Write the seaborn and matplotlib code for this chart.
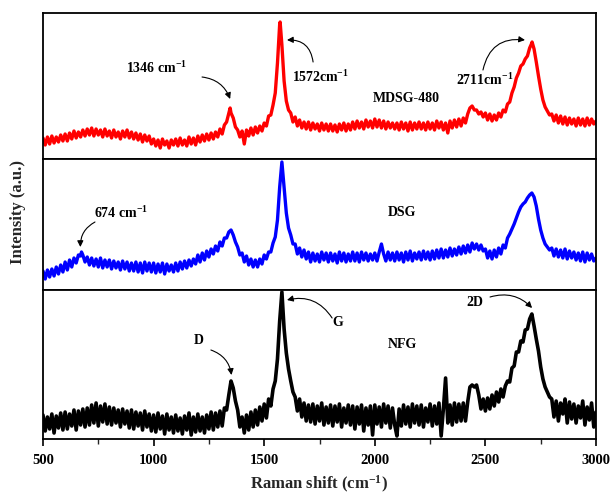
import numpy as np
import pandas as pd
import matplotlib
matplotlib.use("Agg")
import matplotlib.pyplot as plt
import seaborn as sns

# Raman shift sampling grid (cm^-1)
shift_grid = np.arange(500, 3001, 10)

# MDSG-480 intensity (a.u.) on the grid
mdsg_counts = [
    21, 14, 22, 15, 23, 16, 22, 17, 24, 18,
    25, 18, 26, 20, 28, 21, 27, 22, 29, 23,
    30, 24, 31, 23, 30, 24, 29, 22, 30, 23,
    28, 21, 29, 22, 27, 20, 28, 22, 29, 21,
    27, 20, 26, 19, 25, 17, 24, 18, 23, 15,
    20, 13, 19, 11, 20, 14, 18, 11, 19, 14,
    20, 13, 21, 14, 19, 13, 22, 15, 21, 14,
    23, 17, 24, 18, 25, 19, 26, 20, 27, 22,
    30, 25, 34, 37, 46, 46, 41, 32, 29, 22,
    28, 15, 29, 23, 31, 24, 32, 26, 33, 28,
    36, 33, 43, 44, 54, 66, 96, 135, 114, 78,
    58, 49, 46, 37, 42, 33, 39, 31, 37, 30,
    37, 29, 36, 30, 35, 28, 36, 29, 35, 28,
    35, 28, 34, 27, 35, 29, 36, 28, 35, 29,
    37, 30, 38, 31, 37, 30, 39, 32, 38, 31,
    40, 32, 39, 31, 38, 30, 37, 31, 36, 30,
    36, 29, 37, 30, 36, 28, 37, 29, 36, 30,
    37, 30, 36, 29, 37, 30, 36, 29, 38, 31,
    37, 29, 36, 26, 38, 31, 39, 32, 40, 33,
    41, 36, 45, 51, 53, 49, 49, 45, 47, 42,
    46, 39, 45, 38, 44, 39, 46, 42, 49, 47,
    55, 57, 66, 72, 81, 86, 93, 95, 100, 103,
    111, 116, 110, 97, 83, 70, 59, 52, 48, 44,
    45, 38, 44, 36, 43, 35, 42, 34, 41, 35,
    40, 33, 41, 34, 40, 33, 41, 34, 40, 35,
    38,
]
mdsg_peak_pos = [1346, 1572, 2711]
mdsg_peak_val = [51, 137, 117]

# DSG intensity (a.u.) on the grid
dsg_counts = [
    19, 11, 20, 13, 21, 14, 23, 16, 25, 18,
    28, 20, 30, 23, 32, 27, 35, 34, 35, 28,
    33, 25, 32, 24, 31, 23, 32, 22, 30, 23,
    30, 21, 29, 22, 28, 20, 29, 21, 28, 19,
    27, 19, 28, 18, 27, 17, 28, 19, 27, 18,
    27, 17, 26, 18, 27, 16, 26, 19, 25, 18,
    27, 19, 28, 21, 29, 22, 30, 24, 31, 26,
    35, 28, 37, 30, 39, 33, 41, 36, 44, 39,
    48, 44, 52, 52, 58, 60, 55, 48, 43, 35,
    37, 28, 34, 25, 31, 23, 30, 23, 31, 26,
    35, 31, 38, 38, 47, 53, 70, 103, 128, 102,
    77, 62, 55, 46, 46, 36, 42, 33, 40, 31,
    38, 28, 37, 29, 36, 28, 38, 30, 37, 28,
    37, 29, 36, 27, 38, 29, 37, 28, 36, 29,
    38, 29, 37, 28, 38, 30, 37, 29, 36, 30,
    37, 29, 38, 46, 36, 29, 38, 30, 37, 29,
    38, 30, 37, 28, 38, 30, 39, 29, 37, 31,
    38, 30, 39, 31, 38, 30, 39, 31, 40, 32,
    41, 32, 40, 33, 42, 34, 41, 35, 43, 36,
    44, 37, 45, 38, 47, 41, 46, 40, 45, 39,
    41, 32, 39, 31, 40, 33, 42, 36, 45, 42,
    52, 56, 61, 66, 72, 78, 83, 86, 88, 92,
    95, 97, 93, 84, 71, 60, 52, 46, 43, 40,
    42, 34, 41, 33, 40, 32, 41, 31, 39, 32,
    38, 30, 37, 29, 38, 28, 37, 30, 36, 29,
    32,
]
dsg_peak_pos = [674]
dsg_peak_val = [38]

# NFG intensity (a.u.) on the grid
nfg_counts = [
    24, 8, 22, 10, 25, 6, 23, 11, 26, 9,
    27, 10, 25, 13, 29, 9, 28, 14, 30, 12,
    31, 14, 34, 16, 36, 13, 33, 17, 35, 15,
    32, 14, 31, 16, 29, 12, 30, 15, 28, 11,
    29, 10, 27, 13, 26, 9, 28, 12, 25, 8,
    24, 7, 26, 10, 23, 5, 25, 9, 22, 6,
    24, 8, 21, 5, 23, 9, 26, 4, 22, 7,
    25, 8, 22, 6, 24, 10, 27, 9, 26, 12,
    28, 13, 31, 29, 44, 58, 51, 38, 29, 12,
    22, 6, 24, 9, 27, 12, 29, 14, 32, 18,
    35, 21, 40, 33, 50, 58, 80, 118, 147, 110,
    86, 70, 58, 47, 42, 28, 40, 22, 36, 18,
    34, 17, 35, 15, 33, 18, 36, 14, 32, 16,
    34, 13, 33, 17, 35, 12, 31, 16, 34, 14,
    33, 10, 32, 15, 34, 8, 31, 14, 33, 4,
    34, 15, 32, 12, 35, 16, 33, 11, 31, 14,
    3, 30, 13, 34, 15, 32, 12, 35, 16, 33,
    14, 34, 12, 31, 17, 35, 13, 33, 15, 36,
    3, 30, 61, 16, 34, 14, 36, 17, 35, 18,
    36, 18, 37, 52, 54, 52, 54, 44, 30, 40,
    28, 41, 30, 44, 33, 47, 37, 50, 42, 53,
    58, 57, 71, 73, 87, 87, 98, 97, 109, 110,
    120, 125, 113, 100, 88, 72, 60, 52, 47, 42,
    40, 22, 38, 18, 36, 25, 40, 16, 37, 20,
    35, 16, 33, 21, 38, 14, 32, 19, 36, 12,
    27,
]
nfg_peak_pos = []
nfg_peak_val = []

sample_names = ["MDSG-480", "DSG", "NFG"]
sample_colors = ["#ff0000", "#0000ff", "#000000"]
x_ticks = [500, 1000, 1500, 2000, 2500, 3000]


def spectrum(counts, peak_pos, peak_val):
    assert len(counts) == len(shift_grid)
    x = np.concatenate([shift_grid, np.asarray(peak_pos, dtype=float)])
    y = np.concatenate([np.asarray(counts, float), np.asarray(peak_val, float)])
    order = np.argsort(x, kind="stable")
    return pd.DataFrame({"shift": x[order], "intensity": y[order]})


spectra = [
    spectrum(mdsg_counts, mdsg_peak_pos, mdsg_peak_val),
    spectrum(dsg_counts, dsg_peak_pos, dsg_peak_val),
    spectrum(nfg_counts, nfg_peak_pos, nfg_peak_val),
]

sns.set_theme(style="white")
plt.rcParams["font.family"] = ["Liberation Serif", "DejaVu Serif"]
plt.rcParams["font.weight"] = "bold"
plt.rcParams["mathtext.fontset"] = "custom"
plt.rcParams["mathtext.rm"] = "Liberation Serif:bold"
plt.rcParams["mathtext.bf"] = "Liberation Serif:bold"
plt.rcParams["mathtext.default"] = "bf"

fig = plt.figure(figsize=(6.12, 4.95), dpi=100)
gs = fig.add_gridspec(3, 1, height_ratios=[146, 131, 149], hspace=0,
                      left=43 / 612, right=596 / 612,
                      top=1 - 13 / 495, bottom=1 - 439 / 495)
axes = [fig.add_subplot(gs[i]) for i in range(3)]
panel_top = [146, 131, 149]
line_widths = [2.4, 2.4, 2.6]

for ax, df, color, top, lw in zip(axes, spectra, sample_colors, panel_top, line_widths):
    sns.lineplot(data=df, x="shift", y="intensity", ax=ax, color=color,
                 linewidth=lw, estimator=None, legend=False)
    ax.set_xlim(500, 3000)
    ax.set_ylim(0, top)
    ax.set_yticks([])
    ax.set_ylabel("")
    ax.set_xlabel("")
    for sp in ax.spines.values():
        sp.set_visible(True)
        sp.set_color("black")
        sp.set_linewidth(1.3)
        sp.set_zorder(5)

for ax in axes[:2]:
    ax.set_xticks([])

axb = axes[2]
axb.set_xticks(x_ticks)
axb.set_xticks(np.arange(750, 3000, 500), minor=True)
axb.set_xticklabels([str(t) for t in x_ticks], fontsize=10.5, fontweight="bold")
axb.tick_params(axis="x", which="major", direction="out", length=5, width=1.2,
                bottom=True, pad=6, colors="black")
axb.tick_params(axis="x", which="minor", direction="out", length=3.5, width=1.0,
                bottom=True)
axb.set_xlabel("Raman shift (cm$^{-1}$)", fontsize=12, fontweight="bold", labelpad=5)
fig.text(18 / 612, 1 - 212 / 495, "Intensity (a.u.)", rotation=90,
         ha="center", va="center", fontsize=12, fontweight="bold")

label_kw = dict(ha="center", va="center", fontsize=10, fontweight="bold", color="black")


def arrow(ax, start, end, rad):
    ax.annotate("", xy=end, xytext=start,
                arrowprops=dict(arrowstyle="-|>", color="black", lw=0.8,
                                mutation_scale=9, shrinkA=0, shrinkB=0,
                                connectionstyle=f"arc3,rad={rad}"))


# MDSG-480 panel
ax = axes[0]
ax.text(1011, 91, "1346 cm$^{-1}$", **label_kw)
arrow(ax, (1219, 82), (mdsg_peak_pos[0], mdsg_peak_val[0] + 9), -0.3)
ax.text(1752, 82, "1572cm$^{-1}$", **label_kw)
arrow(ax, (1721, 97), (1603, 119), 0.45)
ax.text(2141, 61, "MDSG-480", **label_kw)
ax.text(2498, 79, "2711cm$^{-1}$", **label_kw)
arrow(ax, (2489, 89), (2679, 119), -0.45)

# DSG panel
ax = axes[1]
ax.text(853, 77, "674 cm$^{-1}$", **label_kw)
arrow(ax, (735, 68), (dsg_peak_pos[0] - 5, dsg_peak_val[0] + 5), 0.3)
ax.text(2123, 77, "DSG", **label_kw)

# NFG panel
ax = axes[2]
ax.text(1205, 99, "D", **label_kw)
arrow(ax, (1259, 89), (1352, 64), -0.3)
ax.text(1834, 116, "G", **label_kw)
arrow(ax, (1807, 121), (1603, 139), 0.35)
ax.text(2123, 94, "NFG", **label_kw)
ax.text(2453, 136, "2D", **label_kw)
arrow(ax, (2521, 142), (2711, 131), -0.3)

fig.savefig("out.png", dpi=100)
